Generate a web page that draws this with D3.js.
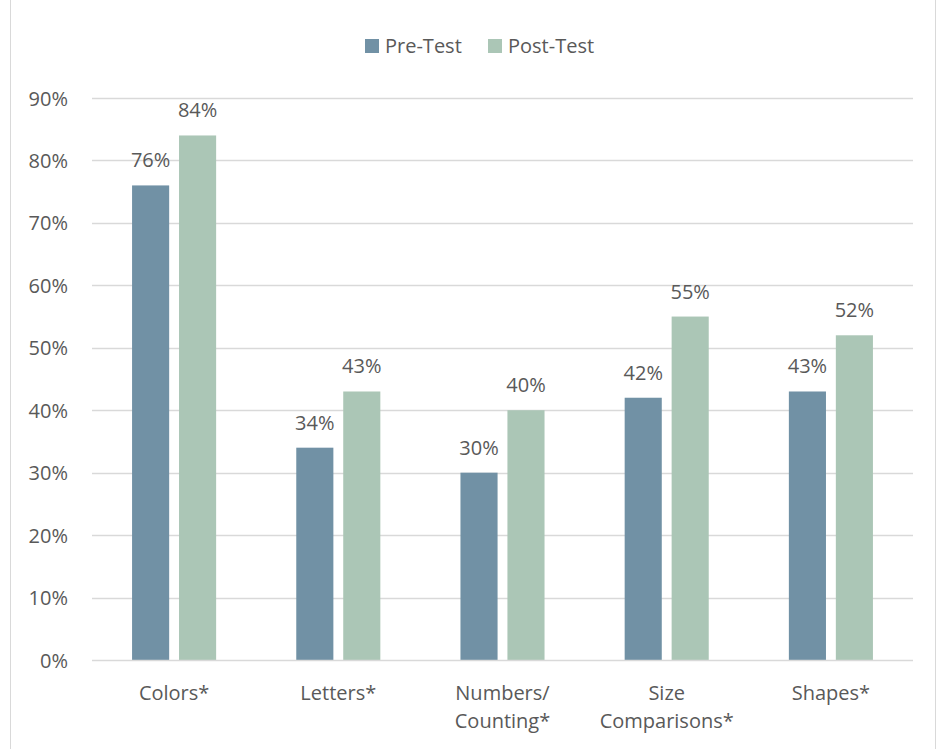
<!DOCTYPE html>
<html>
<head>
<meta charset="utf-8">
<script src="https://cdn.jsdelivr.net/npm/d3@7/dist/d3.min.js"></script>
<style>
  html, body { margin: 0; padding: 0; background: #fff; }
  svg { display: block; }
  text { font-family: "Open Sans", Lato, sans-serif; fill: #595959; }
</style>
</head>
<body>
<svg id="chart" width="946" height="749"></svg>
<script>
// Skill areas assessed, with pre/post proportions
const categories = [["Colors*"], ["Letters*"], ["Numbers/", "Counting*"], ["Size", "Comparisons*"], ["Shapes*"]];
const seriesNames = ["Pre-Test", "Post-Test"];
const preTest = [0.76, 0.34, 0.30, 0.42, 0.43];
const postTest = [0.84, 0.43, 0.40, 0.55, 0.52];
const yTicks = [0, 0.1, 0.2, 0.3, 0.4, 0.5, 0.6, 0.7, 0.8, 0.9];

const colors = { "Pre-Test": "#7191A5", "Post-Test": "#ABC6B6" };
const FS = "20px";

const svg = d3.select("#chart");
const W = 946, H = 749;

// outer frame
svg.append("rect")
  .attr("x", 10.5).attr("y", -1).attr("width", 925).attr("height", H + 2)
  .attr("fill", "none").attr("stroke", "#D9D9D9").attr("stroke-width", 1);

const plot = { left: 92, right: 913, top: 98, bottom: 660 };

const keys = categories.map(c => c.join(" "));
const x = d3.scaleBand().domain(keys).range([plot.left, plot.right])
  .paddingInner(0.488).paddingOuter(0.244);
const xs = d3.scaleBand().domain(seriesNames).range([0, x.bandwidth()]).paddingInner(0.21);
const y = d3.scaleLinear().domain([0, 0.9]).range([plot.bottom, plot.top]);

// gridlines
svg.append("g").selectAll("line").data(yTicks.filter(t => t > 0)).join("line")
  .attr("x1", plot.left).attr("x2", plot.right)
  .attr("y1", d => Math.round(y(d)) + 0.5).attr("y2", d => Math.round(y(d)) + 0.5)
  .attr("stroke", "#D9D9D9").attr("stroke-width", 1.5);

// y axis labels
const yAxis = d3.axisLeft(y).tickValues(yTicks).tickFormat(d3.format(".0%")).tickSize(0).tickPadding(0);
const yg = svg.append("g").attr("transform", `translate(${68},0)`).call(yAxis);
yg.select(".domain").remove();
yg.attr("font-family", null).attr("font-size", null);
yg.selectAll("text").style("font-size", FS).attr("fill", "#595959").attr("dy", "0.35em");

// bars
const rows = keys.map((k, i) => ({ key: k, values: [
  { s: "Pre-Test", v: preTest[i] }, { s: "Post-Test", v: postTest[i] }] }));

const groups = svg.append("g").selectAll("g").data(rows).join("g")
  .attr("transform", d => `translate(${x(d.key)},0)`);

groups.selectAll("rect").data(d => d.values).join("rect")
  .attr("x", d => xs(d.s)).attr("width", xs.bandwidth())
  .attr("y", d => y(d.v)).attr("height", d => y(0) - y(d.v))
  .attr("fill", d => colors[d.s]);

groups.selectAll("text").data(d => d.values).join("text")
  .attr("x", d => xs(d.s) + xs.bandwidth() / 2)
  .attr("y", d => y(d.v) - 18)
  .attr("text-anchor", "middle")
  .style("font-size", FS)
  .text(d => d3.format(".0%")(d.v));

// x axis baseline
svg.append("line")
  .attr("x1", plot.left).attr("x2", plot.right)
  .attr("y1", plot.bottom + 0.5).attr("y2", plot.bottom + 0.5)
  .attr("stroke", "#D9D9D9").attr("stroke-width", 1.5);

// category labels
const xl = svg.append("g").selectAll("text").data(categories).join("text")
  .attr("text-anchor", "middle")
  .attr("x", (d, i) => x(keys[i]) + x.bandwidth() / 2)
  .attr("y", 700)
  .style("font-size", FS);
xl.selectAll("tspan").data(d => d).join("tspan")
  .attr("x", function() { return this.parentNode.getAttribute("x"); })
  .attr("dy", (d, i) => i === 0 ? 0 : 28)
  .text(d => d);

// legend
const legend = svg.append("g");
const legendItems = [{ s: "Pre-Test", x: 365 }, { s: "Post-Test", x: 488 }];
legendItems.forEach(it => {
  legend.append("rect").attr("x", it.x).attr("y", 39).attr("width", 14).attr("height", 14)
    .attr("fill", colors[it.s]);
  legend.append("text").attr("x", it.x + 20).attr("y", 53)
    .style("font-size", FS).text(it.s);
});
</script>
</body>
</html>
